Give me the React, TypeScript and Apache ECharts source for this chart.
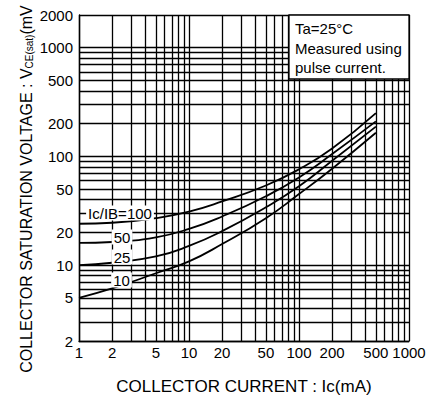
import React, { useEffect, useRef } from "react";
import * as echarts from "echarts";

// Collector current (mA) sample points
const currentMA = [1, 2, 5, 10, 20, 50, 100, 200, 500];
// Collector saturation voltage (mV) for each Ic/IB ratio
const vce100 = [24, 24.5, 27, 31, 38.5, 54, 76, 118, 250];
const vce50 = [16, 16.3, 18, 21.5, 28, 43, 64, 105, 210];
const vce25 = [10, 10.5, 12, 15, 20.5, 34, 53, 91, 188];
const vce10 = [5, 6.1, 8.4, 10.8, 15.6, 27, 45, 77, 165];

const xTickLabels = [1, 2, 5, 10, 20, 50, 100, 200, 500, 1000];
const yTickLabels = [2, 5, 10, 20, 50, 100, 200, 500, 1000, 2000];
const xGridValues = [1, 2, 3, 4, 5, 6, 7, 8, 9, 10, 20, 30, 40, 50, 60, 70, 80, 90, 100, 200, 300, 400, 500, 600, 700, 800, 900, 1000];
const yGridValues = [2, 3, 4, 5, 6, 7, 8, 9, 10, 20, 30, 40, 50, 60, 70, 80, 90, 100, 200, 300, 400, 500, 600, 700, 800, 900, 1000, 2000];

const FONT = "Liberation Sans, Arial, Helvetica, sans-serif";

export default function App() {
  const ref = useRef<HTMLDivElement>(null);

  useEffect(() => {
    if (!ref.current) return;
    const chart = echarts.init(ref.current, undefined, { renderer: "svg" });

    const curves = [
      { name: "Ic/IB=100", values: vce100 },
      { name: "Ic/IB=50", values: vce50 },
      { name: "Ic/IB=25", values: vce25 },
      { name: "Ic/IB=10", values: vce10 },
    ];

    const gridLines = [
      ...xGridValues.map((v) => ({ xAxis: v })),
      ...yGridValues.map((v) => ({ yAxis: v })),
    ];

    const fmt = (v: number) => String(Math.round(v));

    const labelStyle = (text: string, x: number, y: number) => ({
      type: "text",
      x,
      y,
      z: 100,
      silent: true,
      style: {
        text,
        fontSize: 15,
        fontFamily: FONT,
        fill: "#000",
        textAlign: "center",
        textVerticalAlign: "middle",
        backgroundColor: "#fff",
        padding: [0, 2],
      },
    });

    chart.setOption({
      animation: false,
      backgroundColor: "#fff",
      grid: { left: 79, right: 27, top: 15, bottom: 53, containLabel: false },
      xAxis: {
        type: "log",
        logBase: 10,
        min: 1,
        max: 1000,
        axisLine: { show: true, lineStyle: { color: "#000", width: 1.4 } },
        axisTick: { show: false },
        splitLine: { show: false },
        minorSplitLine: { show: false },
        axisLabel: {
          customValues: xTickLabels,
          formatter: fmt,
          fontSize: 15,
          fontFamily: FONT,
          color: "#000",
          margin: 4,
        },
        name: "COLLECTOR CURRENT : Ic(mA)",
        nameLocation: "middle",
        nameGap: 37,
        nameTextStyle: { fontSize: 17, fontFamily: FONT, color: "#000" },
      },
      yAxis: {
        type: "log",
        logBase: 10,
        min: 2,
        max: 2000,
        axisLine: { show: true, lineStyle: { color: "#000", width: 1.4 } },
        axisTick: { show: false },
        splitLine: { show: false },
        axisLabel: {
          customValues: yTickLabels,
          formatter: fmt,
          fontSize: 15,
          fontFamily: FONT,
          color: "#000",
          margin: 6,
        },
      },
      series: curves.map((c, i) => ({
        type: "line",
        name: c.name,
        data: currentMA.map((x, j) => [x, c.values[j]]),
        smooth: 0.5,
        symbol: "none",
        silent: true,
        lineStyle: { color: "#000", width: 1.8 },
        z: 3,
        markLine:
          i === 0
            ? {
                silent: true,
                symbol: ["none", "none"],
                label: { show: false },
                emphasis: { disabled: true },
                lineStyle: { color: "#000", width: 1.3, type: "solid" },
                data: gridLines,
              }
            : undefined,
      })),
      graphic: [
        {
          type: "rect",
          z: 100,
          silent: true,
          shape: { x: 289, y: 15, width: 120, height: 64 },
          style: { fill: "#fff", stroke: "#000", lineWidth: 1.3 },
        },
        {
          type: "text",
          x: 295,
          y: 19,
          z: 101,
          silent: true,
          style: {
            text: "Ta=25°C\nMeasured using\npulse current.",
            fontSize: 15,
            lineHeight: 19.5,
            fontFamily: FONT,
            fill: "#000",
            textAlign: "left",
            textVerticalAlign: "top",
          },
        },
        labelStyle("Ic/IB=100", 120, 213),
        labelStyle("50", 122, 237),
        labelStyle("25", 122, 257),
        labelStyle("10", 121.5, 280),
        {
          type: "text",
          x: 26,
          y: 189,
          rotation: Math.PI / 2,
          z: 100,
          silent: true,
          style: {
            text: "COLLECTOR SATURATION VOLTAGE : V{s|CE(sat)}(mV",
            fontSize: 16,
            fontFamily: FONT,
            fill: "#000",
            textAlign: "center",
            textVerticalAlign: "middle",
            rich: {
              s: { fontSize: 10, fontFamily: FONT, fill: "#000", verticalAlign: "bottom" },
            },
          },
        },
      ],
    });

    return () => chart.dispose();
  }, []);

  return (
    <div
      ref={ref}
      style={{ position: "absolute", left: 0, top: 0, width: 436, height: 400, background: "#fff" }}
    />
  );
}
